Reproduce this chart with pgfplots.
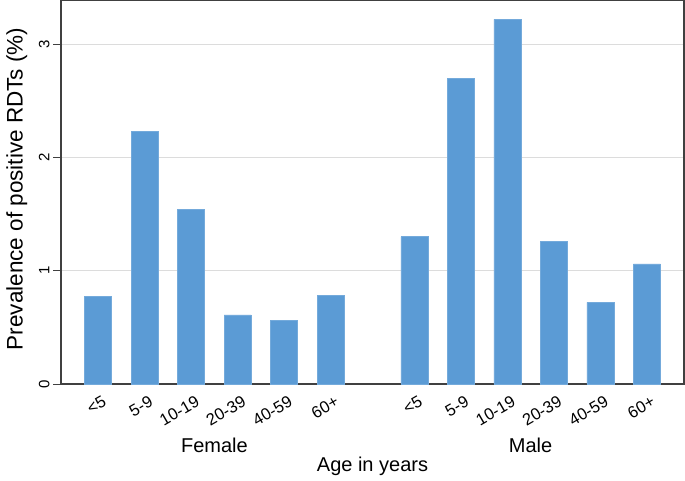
\documentclass[border=0pt]{standalone}
\usepackage{fontspec}
\setmainfont{Liberation Sans}
\usepackage{pgfplots}
\pgfplotsset{compat=1.18}
\definecolor{barblue}{RGB}{91,155,213}
\definecolor{gridgray}{RGB}{220,220,220}
\begin{document}
\begin{tikzpicture}
\begin{axis}[
  at={(0,0)}, anchor=south west,
  scale only axis, width=623pt, height=384pt,
  xmin=-0.8, xmax=12.6, ymin=0, ymax=3.39,
  ybar, bar width=0.58,
  axis line style={draw=black!75, line width=1.1pt},
  xtick={0,1,2,3,4,5,6.8,7.8,8.8,9.8,10.8,11.8},
  xticklabels={<5,5-9,10-19,20-39,40-59,60+,<5,5-9,10-19,20-39,40-59,60+},
  xtick style={draw=none},
  xticklabel style={rotate=30, anchor=north east, font=\fontsize{16.5}{18}\selectfont, xshift=5pt, yshift=-1pt},
  ytick={0,1,2,3},
  ytick pos=left, tick align=outside,
  ytick style={draw=black!75, line width=1pt},
  major tick length=8pt,
  yticklabel style={rotate=90, anchor=south, font=\fontsize{15}{16}\selectfont},
  /pgf/number format/assume math mode=true,
  ymajorgrids, grid style={gridgray, line width=1.2pt},
  ylabel={Prevalence of positive RDTs (\%)},
  ylabel style={at={(axis description cs:-0.071,0.508)}, anchor=center, font=\fontsize{22.5}{26}\selectfont},
  xlabel={Age in years},
  xlabel style={at={(axis description cs:0.5,-0.2135)}, anchor=center, font=\fontsize{20}{24}\selectfont},
  clip=false,
]
\addplot[fill=barblue, draw=barblue!85!white, line width=0.6pt] coordinates {
  (0,0.77) (1,2.23) (2,1.54) (3,0.61) (4,0.565) (5,0.785)
  (6.8,1.30) (7.8,2.70) (8.8,3.22) (9.8,1.26) (10.8,0.72) (11.8,1.06)
};
\node[font=\fontsize{20}{24}\selectfont, anchor=center] at (axis cs:2.5,0) [yshift=-61pt] {Female};
\node[font=\fontsize{20}{24}\selectfont, anchor=center] at (axis cs:9.3,0) [yshift=-61pt] {Male};
\end{axis}
\pgfresetboundingbox
\path (-61pt,-96pt) rectangle (624pt,384pt);
\end{tikzpicture}
\end{document}
